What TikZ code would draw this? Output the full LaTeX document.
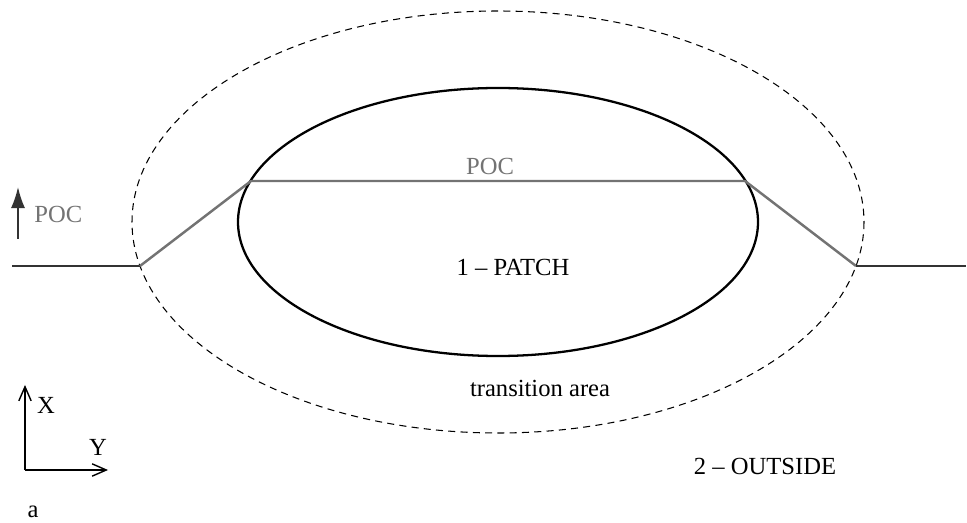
\documentclass[tikz,border=0pt]{standalone}
\usepackage{fontspec}
\setmainfont{Liberation Serif}
\usetikzlibrary{arrows.meta}
\definecolor{pocgray}{RGB}{115,115,115}
\begin{document}
\begin{tikzpicture}[x=0.02cm,y=-0.02cm]
\tikzstyle{every node}+=[inner sep=0pt, font=\fontsize{14}{17}\selectfont]
\tikzstyle{poc}=[pocgray, line width=1.4pt]
\tikzstyle{ground}=[black!80, line width=1pt]
\useasboundingbox (0,0) rectangle (967,523);
% zones
\draw [black, dashed, dash pattern=on 4pt off 3pt, line width=0.6pt] (498,222) ellipse (366 and 211);
\draw [black, line width=1.3pt] (498,222) ellipse (260 and 134);
% profile
\coordinate (gl) at (12,266);
\coordinate (kl) at (140,266);
\coordinate (pl) at (251,181);
\coordinate (pr) at (745,181);
\coordinate (kr) at (856,266);
\coordinate (gr) at (966,266);
\draw [ground] (gl) -- (kl);
\draw [poc] (kl) -- (pl) -- (pr) -- (kr);
\draw [ground] (kr) -- (gr);
\node (poctop) [pocgray] at (490,166) {POC};
\coordinate (pocfoot) at (18,239);
\coordinate (pochead) at (18,187);
\draw [black!80, line width=1pt, -{Latex[length=12pt,width=8pt]}] (pocfoot) -- (pochead);
\node (pocleft) [pocgray, anchor=west] at (34,214) {POC};
% labels
\node (patch) at (513,267) {1 -- PATCH};
\node (trans) at (540,388) {transition area};
\node (outside) at (765,466) {2 -- OUTSIDE};
% axes
\coordinate (o) at (25,470);
\coordinate (xt) at (25,385);
\coordinate (yt) at (108,470);
\draw [black, line width=0.8pt, -{Straight Barb[length=8pt,width=7pt]}] (o) -- (xt);
\draw [black, line width=0.8pt, -{Straight Barb[length=8pt,width=7pt]}] (o) -- (yt);
\node (xl) at (46,405) {X};
\node (yl) at (98,447) {Y};
\node (al) at (33,512) {a};
\end{tikzpicture}
\end{document}
